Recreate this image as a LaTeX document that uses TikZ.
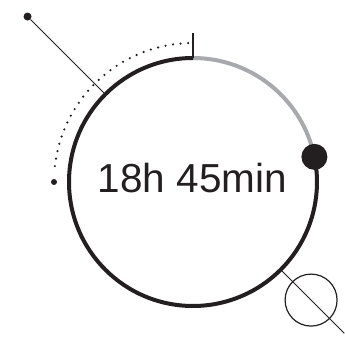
\documentclass[tikz,border=0pt]{standalone}
\usepackage{fontspec}
\setmainfont{Liberation Sans}
\definecolor{ink}{HTML}{231F20}
\definecolor{track}{HTML}{A7A9AC}

\begin{document}
\begin{tikzpicture}[
    x=1pt, y=1pt,
    ring/.style={line width=4pt, draw=ink},
    trackarc/.style={line width=4pt, draw=track},
    hair/.style={line width=1pt, draw=ink},
    dotarc/.style={line width=2.4pt, draw=ink, line cap=round, dash pattern=on 0pt off 7.6pt},
    blob/.style={circle, fill=ink, inner sep=0pt, minimum size=#1},
    lens/.style={circle, draw=ink, line width=1.2pt, inner sep=0pt, minimum size=52pt},
    readout/.style={font=\fontsize{40.5}{44}\selectfont, text=ink, anchor=base}
]
\useasboundingbox (-193,-166) rectangle (152,182);
\coordinate (c) at (0,0);
% pointer lines through the centre
\node[blob=8pt] (pin) at (135:234) {};
\coordinate (rimNW) at (135:124);
\coordinate (rimSE) at (-45:124);
\coordinate (tail) at (-45:214);
\node[lens] (lens) at (-45:167) {};
\draw[hair] (pin) -- (rimNW);
\draw[hair] (rimSE) -- (tail);
% dotted elapsed arc
\draw[dotarc] (92:139) arc[start angle=92, end angle=176, radius=139];
\node[blob=6pt] (start) at (180:139) {};
% dial
\draw[trackarc] (90:124) arc[start angle=90, end angle=11.7, radius=124];
\draw[ring] (90:124) arc[start angle=90, end angle=371.7, radius=124];
\coordinate (top) at (90:124);
\coordinate (mark) at (90:149);
\draw[line width=2pt, draw=ink] (top) -- (mark);
\node[blob=26pt] (knob) at (11.7:124) {};
\node[readout] (time) at (-0.5,-10) {18h 45min};
\end{tikzpicture}
\end{document}
